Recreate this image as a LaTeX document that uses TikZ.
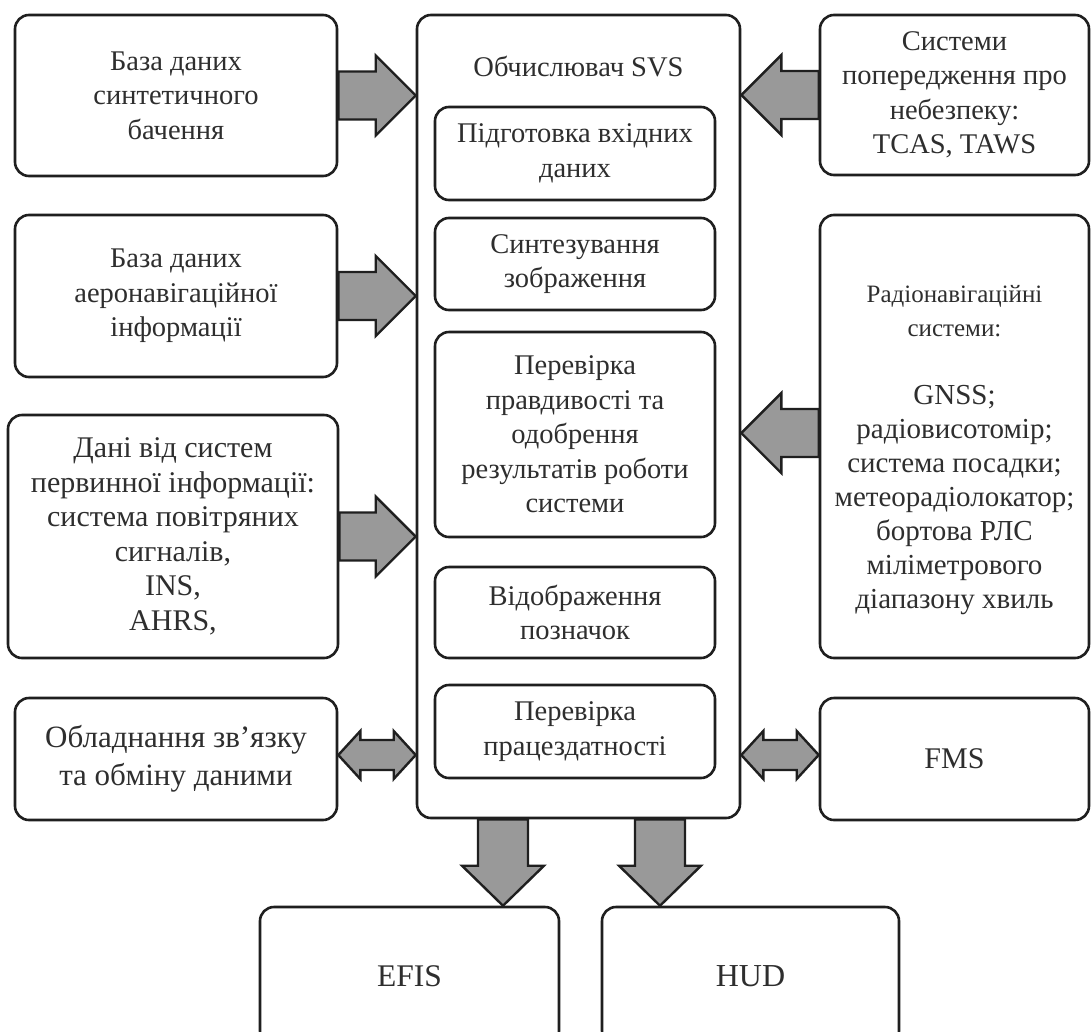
\documentclass[tikz,border=0pt]{standalone}
\usepackage{fontspec}
\setmainfont{Liberation Serif}
\usetikzlibrary{calc}

% fat horizontal arrow: tail point, tip point, signed head length
\newcommand\harrow[3]{%
  \draw[arr] let \p1=(#1), \p2=(#2) in
    (\x1,\y2+24pt) -- ({\x2-(#3)},\y2+24pt) -- ({\x2-(#3)},\y2+40pt) -- (\x2,\y2)
    -- ({\x2-(#3)},\y2-40pt) -- ({\x2-(#3)},\y2-24pt) -- (\x1,\y2-24pt) -- cycle;}
% fat downward arrow: tail point, tip point
\newcommand\varrow[2]{%
  \draw[arr] let \p1=(#1), \p2=(#2) in
    (\x2-25pt,\y1) -- (\x2-25pt,\y2+40pt) -- (\x2-41pt,\y2+40pt) -- (\x2,\y2)
    -- (\x2+41pt,\y2+40pt) -- (\x2+25pt,\y2+40pt) -- (\x2+25pt,\y1) -- cycle;}
% double-headed horizontal arrow between two points
\newcommand\dharrow[2]{%
  \draw[arr] let \p1=(#1), \p2=(#2) in
    (\x1,\y1) -- (\x1+22pt,\y1+24pt) -- (\x1+22pt,\y1+15pt) -- (\x2-22pt,\y1+15pt)
    -- (\x2-22pt,\y1+24pt) -- (\x2,\y1) -- (\x2-22pt,\y1-24pt) -- (\x2-22pt,\y1-15pt)
    -- (\x1+22pt,\y1-15pt) -- (\x1+22pt,\y1-24pt) -- cycle;}

\begin{document}
\begin{tikzpicture}[x=1pt,y=-1pt,
  box/.style={draw=black!88, line width=2.6pt, rounded corners=14pt, align=center,
    inner sep=0pt, text=black!82, font=\fontsize{28.5}{34.5}\selectfont},
  txt/.style={align=center, inner sep=0pt, text=black!82, font=\fontsize{28.5}{34.5}\selectfont},
  arr/.style={draw=black!88, line width=2.4pt, fill=black!40, line join=miter},
]
\useasboundingbox (0,0) rectangle (1092,1031);
\fill[white] (0,0) rectangle (1092,1031);
\begin{scope}
\clip (0,0) rectangle (1092,1031);

% left column
\node[box, minimum width=322pt, minimum height=161pt] (L1) at (176,95.5)
  {База даних\\синтетичного\\бачення};
\node[box, minimum width=322pt, minimum height=162pt] (L2) at (176,296)
  {База даних\\аеронавігаційної\\інформації};
\node[box, minimum width=330pt, minimum height=243pt, font=\fontsize{30}{34.5}\selectfont] (L3) at (173,536.5)
  {Дані від систем\\первинної інформації:\\система повітряних\\сигналів,\\INS,\\AHRS,};
\node[box, minimum width=322pt, minimum height=122pt, font=\fontsize{31}{38}\selectfont] (L4) at (176,759)
  {Обладнання зв’язку\\та обміну даними};

% central computer
\node[box, minimum width=323pt, minimum height=803pt] (C) at (578.5,416.5) {};
\node[txt] (ct) at (578.5,67) {Обчислювач SVS};
\node[box, minimum width=280pt, minimum height=93pt] (I1) at (575,153.5)
  {Підготовка вхідних\\даних};
\node[box, minimum width=280pt, minimum height=92pt] (I2) at (575,264)
  {Синтезування\\зображення};
\node[box, minimum width=280pt, minimum height=205pt] (I3) at (575,434.5)
  {Перевірка\\правдивості та\\одобрення\\результатів роботи\\системи};
\node[box, minimum width=280pt, minimum height=91pt] (I4) at (575,612.5)
  {Відображення\\позначок};
\node[box, minimum width=280pt, minimum height=93pt] (I5) at (575,731.5)
  {Перевірка\\працездатності};

% right column
\node[box, minimum width=269pt, minimum height=160pt] (R1) at (954.5,95)
  {Системи\\попередження про\\небезпеку:\\TCAS, TAWS};
\node[box, minimum width=269pt, minimum height=443pt] (R2) at (954.5,436.5) {};
\node[txt, font=\fontsize{29}{34}\selectfont] (r2t) at (954.5,450)
  {{\fontsize{25}{33}\selectfont Радіонавігаційні}\\{\fontsize{25}{33}\selectfont системи:}\\\\GNSS;\\радіовисотомір;\\система посадки;\\метеорадіолокатор;\\бортова РЛС\\міліметрового\\діапазону хвиль};
\node[box, minimum width=269pt, minimum height=122pt, font=\fontsize{30}{34.5}\selectfont] (R3) at (954.5,759) {FMS};

% displays
\node[box, minimum width=299pt, minimum height=138pt, font=\fontsize{31.5}{36}\selectfont] (E) at (409.5,976) {EFIS};
\node[box, minimum width=297pt, minimum height=138pt, font=\fontsize{32}{36}\selectfont] (H) at (750.5,976) {HUD};

% inputs into the computer
\harrow{L1.east}{L1.east -| C.west}{40pt}
\harrow{L2.east}{L2.east -| C.west}{40pt}
\harrow{L3.east}{L3.east -| C.west}{40pt}
\harrow{R1.west}{R1.west -| C.east}{-40pt}
\coordinate (r2a) at (R2.west |- 0,433);
\harrow{r2a}{r2a -| C.east}{-40pt}

% data exchange
\coordinate (l4a) at (L4.east |- 0,755);
\dharrow{l4a}{l4a -| C.west}
\coordinate (r3a) at (C.east |- 0,755);
\dharrow{r3a}{r3a -| R3.west}

% outputs to the displays
\coordinate (d1) at (503,818);
\coordinate (d2) at (660,818);
\varrow{d1 |- C.south}{d1 |- E.north}
\varrow{d2 |- C.south}{d2 |- H.north}
\end{scope}
\end{tikzpicture}
\end{document}
